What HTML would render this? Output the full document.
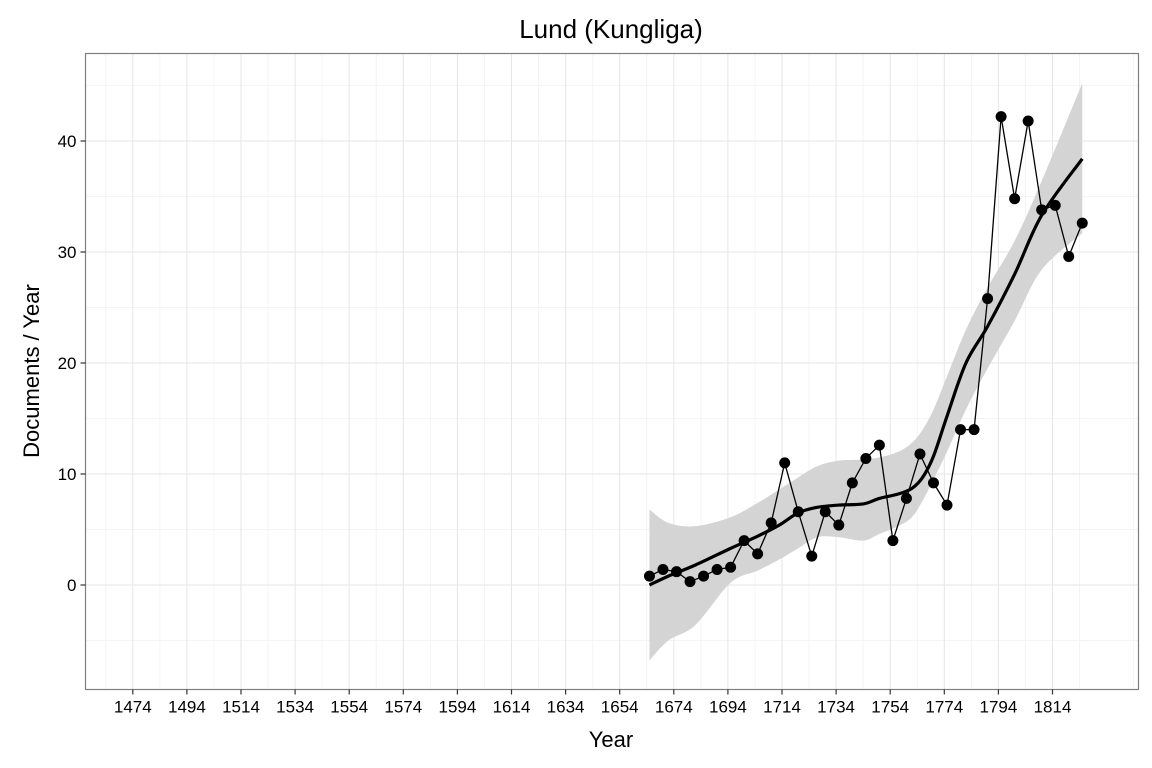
<!DOCTYPE html>
<html><head><meta charset="utf-8"><style>
html,body{margin:0;padding:0;background:#fff;}
svg{display:block;font-family:"Liberation Sans",Arial,sans-serif;}
</style></head><body>
<svg id="chart" width="1152" height="768" viewBox="0 0 1152 768" xmlns="http://www.w3.org/2000/svg">
<rect width="1152" height="768" fill="#fff"/>
<text x="611" y="38" font-size="26" text-anchor="middle" fill="#000">Lund (Kungliga)</text>
<g id="grid"></g>
<g id="band"></g>
<g id="series"></g>
<rect x="85.5" y="53.5" width="1053" height="636" fill="none" stroke="#7f7f7f" stroke-width="1.2"/>
<g id="axes"></g>
<text x="611" y="747" font-size="22" text-anchor="middle" fill="#000">Year</text>
<text transform="translate(39,371) rotate(-90)" font-size="22" text-anchor="middle" fill="#000">Documents / Year</text>
</svg>
<script>
const years = [1665,1670,1675,1680,1685,1690,1695,1700,1705,1710,1715,1720,1725,1730,1735,1740,1745,1750,1755,1760,1765,1770,1775,1780,1785,1790,1795,1800,1805,1810,1815,1820,1825];
const docs = [0.8,1.4,1.2,0.3,0.8,1.4,1.6,4.0,2.8,5.6,11.0,6.6,2.6,6.6,5.4,9.2,11.4,12.6,4.0,7.8,11.8,9.2,7.2,14.0,14.0,25.8,42.2,34.8,41.8,33.8,34.2,29.6,32.6];
const smoothYears = [1665,1672,1682,1695,1705,1713,1720,1727,1735,1744,1750,1757,1762,1766,1770,1775,1782,1790,1800,1810,1825];
const smoothVals = [0,0.8,1.8,3.3,4.4,5.4,6.5,7.0,7.2,7.3,7.8,8.2,8.7,9.7,11.6,15.2,20.0,23.3,28.0,33.3,38.4];
const upperVals = [6.8,5.6,5.3,6.1,7.4,8.6,9.7,10.7,11.2,11.3,11.5,12.0,12.8,14.0,15.8,18.8,23.0,26.8,31.0,36.4,45.2];
const lowerVals = [-6.8,-5.0,-3.6,0.2,1.3,2.3,3.3,4.3,4.3,4.0,4.6,5.3,6.1,7.6,9.5,12.0,15.8,19.5,23.8,28.4,31.7];
const xTicks = [1474,1494,1514,1534,1554,1574,1594,1614,1634,1654,1674,1694,1714,1734,1754,1774,1794,1814];
const yTicks = [0,10,20,30,40];

const NS="http://www.w3.org/2000/svg";
function X(yr){return 132.8+(yr-1474)*2.705;}
function Y(v){return 585-v*11.1;}
function mk(tag,attrs,parent){const e=document.createElementNS(NS,tag);for(const k in attrs)e.setAttribute(k,attrs[k]);parent.appendChild(e);return e;}
const grid=document.getElementById('grid'),axes=document.getElementById('axes'),band=document.getElementById('band'),series=document.getElementById('series');
const L=85.5,R=1138.5,T=53.5,B=689.5;
for(let v=-5;v<=45;v+=10){const l=mk('line',{x1:L,x2:R,y1:Y(v),y2:Y(v),stroke:'#f4f4f4','stroke-width':1},grid);

}
for(let yr=1464;yr<=1844;yr+=20){const x=X(yr);if(x<L||x>R)continue;const l=mk('line',{x1:x,x2:x,y1:T,y2:B,stroke:'#f4f4f4','stroke-width':1},grid);

}
yTicks.forEach(v=>{const y=Y(v);
const g=mk('line',{x1:L,x2:R,y1:y,y2:y,stroke:'#e6e6e6','stroke-width':1},grid);


const t=mk('line',{x1:L-5,x2:L,y1:y,y2:y,stroke:'#333','stroke-width':1.2},axes);


const tx=mk('text',{x:L-9,y:y+6,'font-size':17,'text-anchor':'end',fill:'#000'},axes);tx.textContent=v;

});
xTicks.forEach(yr=>{const x=X(yr);
const g=mk('line',{x1:x,x2:x,y1:T,y2:B,stroke:'#e6e6e6','stroke-width':1},grid);


const t=mk('line',{x1:x,x2:x,y1:B,y2:B+5,stroke:'#333','stroke-width':1.2},axes);


const tx=mk('text',{x:x,y:B+23,'font-size':17,'text-anchor':'middle',fill:'#000'},axes);tx.textContent=yr;

});
function spline(pts){let d='M'+pts[0][0]+','+pts[0][1];
for(let i=0;i<pts.length-1;i++){const p0=pts[i-1]||pts[i],p1=pts[i],p2=pts[i+1],p3=pts[i+2]||p2;
const c1=[p1[0]+(p2[0]-p0[0])/6,p1[1]+(p2[1]-p0[1])/6],c2=[p2[0]-(p3[0]-p1[0])/6,p2[1]-(p3[1]-p1[1])/6];
d+=' C'+c1[0]+','+c1[1]+' '+c2[0]+','+c2[1]+' '+p2[0]+','+p2[1];}return d;}
const up=smoothYears.map((yr,i)=>[X(yr),Y(upperVals[i])]);
const lo=smoothYears.map((yr,i)=>[X(yr),Y(lowerVals[i])]).reverse();
const bandD=spline(up)+' L'+spline(lo).slice(1)+' Z';
const bp=mk('path',{d:bandD,fill:'#d4d4d4',stroke:'none'},band);


const lp=mk('polyline',{points:years.map((yr,i)=>X(yr)+','+Y(docs[i])).join(' '),fill:'none',stroke:'#000','stroke-width':1.3},series);


const sp=mk('path',{d:spline(smoothYears.map((yr,i)=>[X(yr),Y(smoothVals[i])])),fill:'none',stroke:'#000','stroke-width':3.2},series);


years.forEach((yr,i)=>{const c=mk('circle',{cx:X(yr),cy:Y(docs[i]),r:5.5,fill:'#000'},series);

});
</script>
</body></html>
